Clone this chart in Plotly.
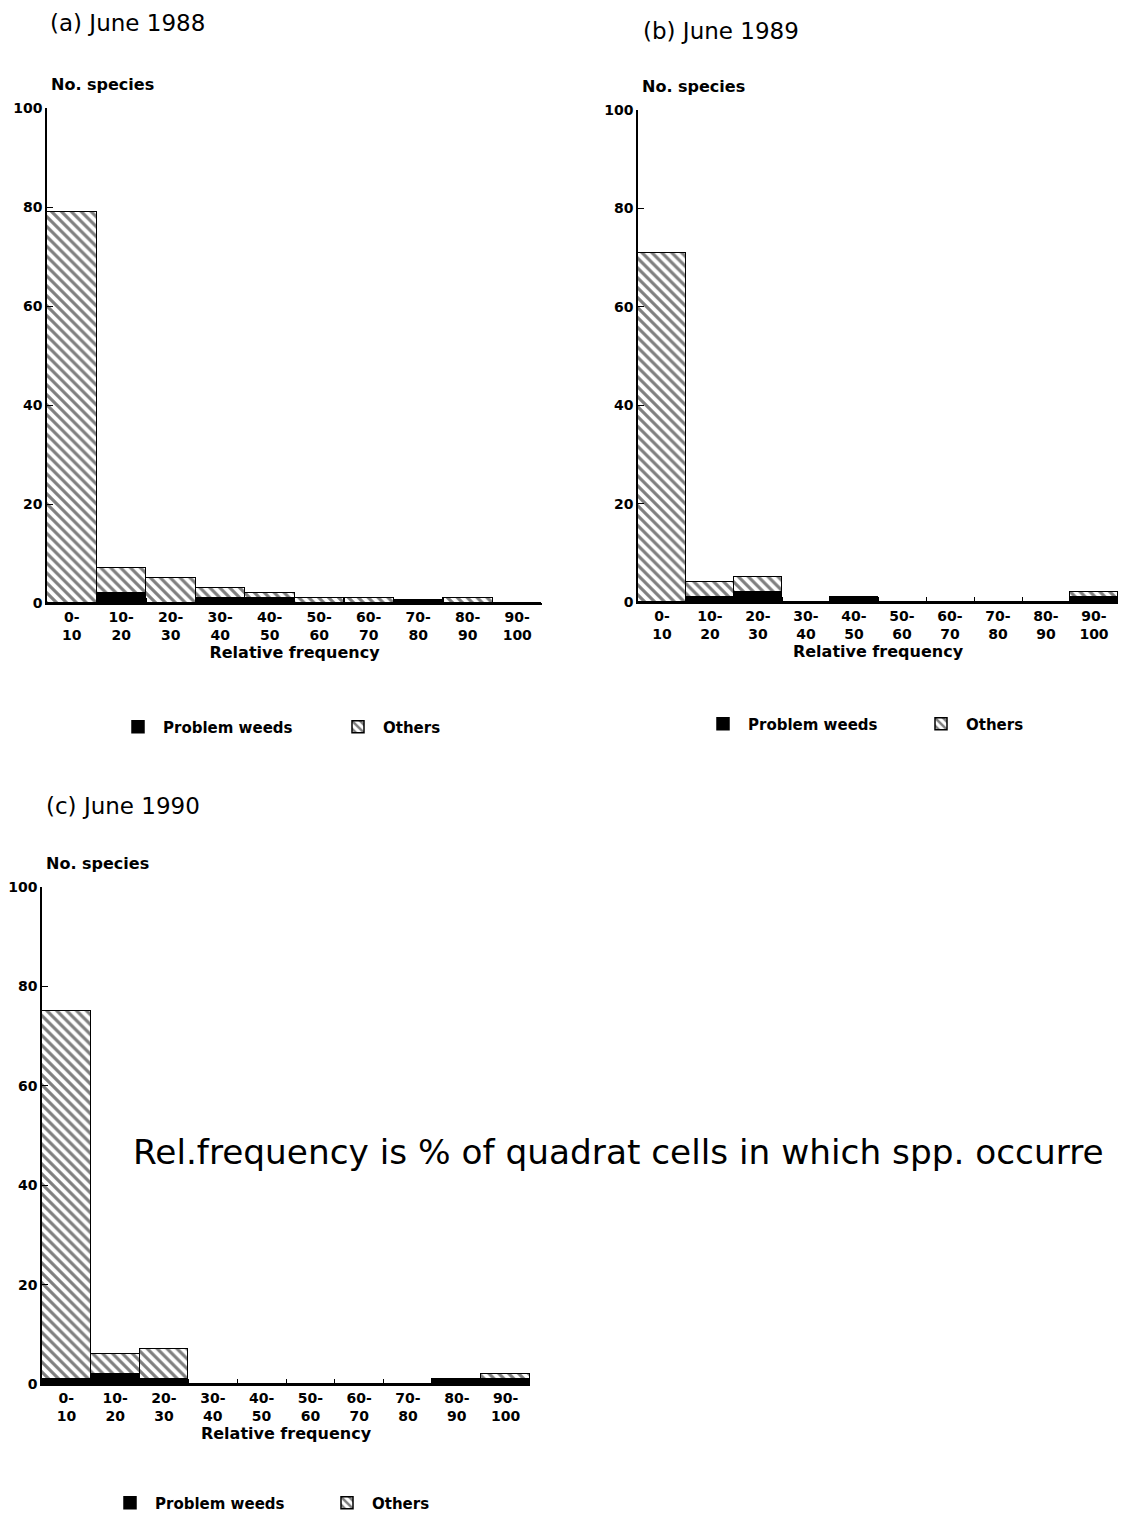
import plotly.graph_objects as go

categories = ["0-<br>10", "10-<br>20", "20-<br>30", "30-<br>40", "40-<br>50",
              "50-<br>60", "60-<br>70", "70-<br>80", "80-<br>90", "90-<br>100"]
y_ticks = [0, 20, 40, 60, 80, 100]

weeds_1988 = [0, 2, 0, 1, 1, 0, 0, 0.6, 0, 0]
others_1988 = [79, 5, 5, 2, 1, 1, 1, 0, 1, 0]
weeds_1989 = [0, 1, 2, 0, 1, 0, 0, 0, 0, 1]
others_1989 = [71, 3, 3, 0, 0, 0, 0, 0, 0, 1]
weeds_1990 = [1, 2, 1, 0, 0, 0, 0, 0, 1, 1]
others_1990 = [74, 4, 6, 0, 0, 0, 0, 0, 0, 1]

panels = [
    ("(a) June 1988", weeds_1988, others_1988),
    ("(b) June 1989", weeds_1989, others_1989),
    ("(c) June 1990", weeds_1990, others_1990),
]

# The page places the figure 8px in from the top-left corner, so the figure
# is sized to fill the rest of the 1126x1521 window exactly.
OFF = 8
W, H = 1126 - 2 * OFF, 1521 - 2 * OFF
def px(x):
    return (x - OFF) / W
def py(y):
    return 1 - (y - OFF) / H

# pixel boxes (page coords): (left, right, y0 pixel, y100 pixel)
boxes = [(47, 542, 603, 108), (638, 1125, 602, 110), (42, 530, 1384, 887)]
title_pos = [(48, 23), (641, 31), (44, 806)]
legend_pos = [(113, 727, 165), (698, 724, 163), (105, 1503, 162)]
BOLD = "DejaVu Sans, Liberation Sans, sans-serif"
REG = "DejaVu Sans, Liberation Sans, sans-serif"

fig = go.Figure()
layout = {}
annotations = []
for i, ((title, weeds, others), (l, r, y0, y100)) in enumerate(zip(panels, boxes)):
    n = "" if i == 0 else str(i + 1)
    xa, ya = "x" + n, "y" + n
    lg = "legend" + n
    fig.add_trace(go.Bar(
        x=categories, y=weeds, name="Problem weeds", xaxis=xa, yaxis=ya,
        marker=dict(color="black", line=dict(color="black", width=1.5)),
        legend=lg))
    fig.add_trace(go.Bar(
        x=categories, y=others, name="Others", xaxis=xa, yaxis=ya,
        marker=dict(color="white", line=dict(color="black", width=1.5),
                    pattern=dict(shape="\\", fgcolor="black", bgcolor="white",
                                 size=7, solidity=0.45)),
        legend=lg))
    layout["xaxis" + n] = dict(
        domain=[px(l), min(px(r), 1)], anchor=ya, type="category",
        automargin=False,
        showline=True, linecolor="black", linewidth=1.5,
        ticks="inside", tickson="boundaries", ticklen=5, tickcolor="black",
        tickfont=dict(family=BOLD, size=14, color="black", weight="bold"),
        title=dict(text="Relative frequency", standoff=4,
                   font=dict(family=BOLD, size=16, color="black", weight="bold")),
        showgrid=False, zeroline=False, fixedrange=True)
    layout["yaxis" + n] = dict(
        domain=[py(y0), py(y100)], anchor=xa, range=[0, 100], automargin=False,
        tickvals=y_ticks, showline=True, linecolor="black", linewidth=1.5,
        ticks="inside", ticklen=6, tickcolor="black",
        tickfont=dict(family=BOLD, size=14, color="black", weight="bold"),
        showgrid=False, zeroline=False, fixedrange=True)
    annotations.append(dict(
        text="No. species", xref="paper", yref="paper",
        x=px(l + 2), y=py(y100 - 12), xanchor="left", yanchor="bottom",
        showarrow=False,
        font=dict(family=BOLD, size=16, color="black", weight="bold")))
    tx, ty = title_pos[i]
    annotations.append(dict(
        text=title, xref="paper", yref="paper", x=px(tx), y=py(ty),
        xanchor="left", yanchor="middle", showarrow=False,
        font=dict(family=REG, size=23, color="black")))
    lx, ly, ew = legend_pos[i]
    layout[lg] = dict(
        x=px(lx), y=py(ly), xref="container", yref="container",
        xanchor="left", yanchor="middle",
        orientation="h", bgcolor="rgba(0,0,0,0)", itemwidth=40,
        font=dict(family=BOLD, size=15, color="black", weight="bold"),
        traceorder="normal", entrywidth=ew)

annotations.append(dict(
    text="Rel.frequency is % of quadrat cells in which spp. occurre",
    xref="paper", yref="paper", x=px(131), y=py(1152),
    xanchor="left", yanchor="middle", showarrow=False,
    font=dict(family=REG, size=34.3, color="black")))

fig.update_layout(
    width=W, height=H, margin=dict(l=0, r=0, t=0, b=0, autoexpand=False),
    paper_bgcolor="white", plot_bgcolor="white",
    barmode="stack", bargap=0, showlegend=True,
    annotations=annotations, **layout)

fig.write_html("out.html")
